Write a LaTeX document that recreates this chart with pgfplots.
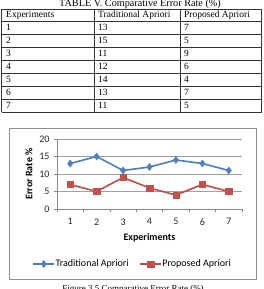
\documentclass[border=0pt]{standalone}
\usepackage{pgfplots}
\pgfplotsset{compat=1.18}
\usepackage{fontspec}
\setmainfont{Liberation Serif}
\newfontfamily\chartfont{Carlito}
\definecolor{tblue}{HTML}{4A7EBB}
\definecolor{tbluef}{HTML}{4F81BD}
\definecolor{pred}{HTML}{BE4B48}
\definecolor{predf}{HTML}{C0504D}
\definecolor{gridc}{HTML}{A0A0A0}
\definecolor{axc}{HTML}{868686}
\begin{document}
\begin{tikzpicture}[x=1pt,y=1pt]
\useasboundingbox (0,0) rectangle (263,289);
\clip (0,0) rectangle (263,289);
% ---- table ----
\node[anchor=base,font=\fontsize{10.2}{12}\selectfont,inner sep=0] at (140,282.3) {TABLE V. Comparative Error Rate (\%)};
\draw[line width=0.6pt,black!80] (1.5,280) -- (261.5,280);
\draw[line width=0.6pt,black!80] (1.5,268) -- (261.5,268);
\foreach \yy in {255,242,229,216,203,190,177} {\draw[line width=0.6pt,black!80] (1.5,\yy) -- (261.5,\yy);}
\foreach \xx in {1.5,94,180,261.5} {\draw[line width=0.6pt,black!80] (\xx,280) -- (\xx,177);}
\begin{scope}[every node/.style={anchor=base west,inner sep=0,font=\fontsize{9.5}{11}\selectfont}]
\node at (6,271) {Experiments};
\node at (98,271) {Traditional Apriori};
\node at (184,271) {Proposed Apriori};
\node at (6,258.5) {1}; \node at (98,258.5) {13}; \node at (184,258.5) {7};
\node at (6,245.5) {2}; \node at (98,245.5) {15}; \node at (184,245.5) {5};
\node at (6,232.5) {3}; \node at (98,232.5) {11}; \node at (184,232.5) {9};
\node at (6,219.5) {4}; \node at (98,219.5) {12}; \node at (184,219.5) {6};
\node at (6,206.5) {5}; \node at (98,206.5) {14}; \node at (184,206.5) {4};
\node at (6,193.5) {6}; \node at (98,193.5) {13}; \node at (184,193.5) {7};
\node at (6,180.5) {7}; \node at (98,180.5) {11}; \node at (184,180.5) {5};
\end{scope}
% ---- chart box ----
\draw[line width=0.6pt,black!45] (9,161) rectangle (256,10);
\begin{axis}[
  at={(57pt,80pt)}, anchor=south west,
  scale only axis, width=185pt, height=70pt,
  xmin=0.5, xmax=7.5, ymin=0, ymax=20,
  xtick={1,...,7}, ytick={0,5,10,15,20},
  minor xtick={0.5,1.5,...,7.5},
  major x tick style={draw=none},
  minor tick length=3pt, major tick length=3pt,
  tick align=outside,
  axis x line*=bottom, axis y line*=left,
  axis line style={axc, line width=0.6pt},
  every tick/.style={axc, line width=0.6pt},
  ymajorgrids, grid style={gridc, line width=0.5pt},
  tick label style={font=\chartfont\fontsize{10}{11}\selectfont, text=black!85},
  /pgf/number format/assume math mode=true,
  xticklabel style={yshift=-3pt},
  yticklabel style={xshift=-1pt},
  xlabel={\textbf{Experiments}},
  ylabel={\textbf{Error Rate \%}},
  label style={font=\chartfont\fontsize{10}{11}\selectfont},
  xlabel style={at={(axis description cs:0.5,-0.414)}, anchor=center},
  ylabel style={at={(axis description cs:-0.151,0.5)}, anchor=center},
  legend columns=2,
  legend style={at={(axis description cs:0.405,-0.786)}, anchor=center, draw=none, fill=none,
    font=\chartfont\fontsize{10}{12}\selectfont,
    /tikz/every odd column/.append style={column sep=0pt},
    /tikz/every even column/.append style={column sep=10pt},
    nodes={inner xsep=0.5pt}},
  legend image code/.code={\draw[mark repeat=2,mark phase=2] plot coordinates {(0pt,0pt)(10.5pt,0pt)(21pt,0pt)};},
  clip=false,
]
\addplot[tblue, line width=1.6pt, mark=diamond*, mark size=3.6pt, mark options={fill=tbluef, draw=tbluef, line width=0.4pt}]
  coordinates {(1,13)(2,15)(3,11)(4,12)(5,14)(6,13)(7,11)};
\addlegendentry{Traditional Apriori}
\addplot[pred, line width=1.6pt, mark=square*, mark size=3.2pt, mark options={fill=predf, draw=predf, line width=0.4pt}]
  coordinates {(1,7)(2,5)(3,9)(4,6)(5,4)(6,7)(7,5)};
\addlegendentry{Proposed Apriori}
\end{axis}
% ---- caption (cut off at the bottom, as in the reference) ----
\node[anchor=base,font=\fontsize{9}{10}\selectfont,inner sep=0] at (133,-2.5) {Figure 3.5 Comparative Error Rate (\%)};
\end{tikzpicture}
\end{document}
